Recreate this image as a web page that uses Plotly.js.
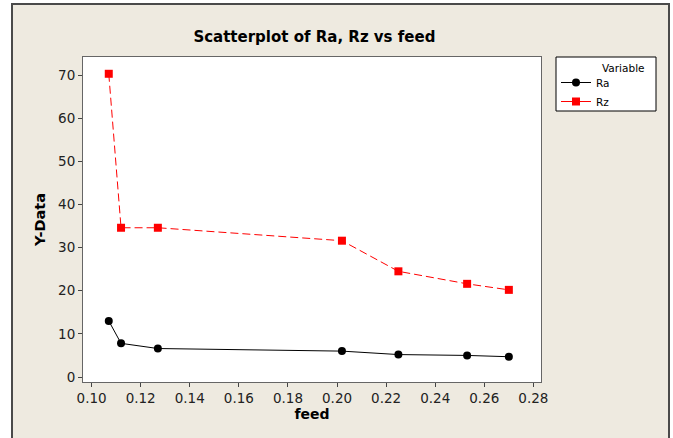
<!DOCTYPE html>
<html>
<head>
<meta charset="utf-8">
<script src="https://cdn.plot.ly/plotly-3.0.1.min.js"></script>
<style>html,body{margin:0;padding:0;background:#fff;}#chart{width:673px;height:438px;}</style>
</head>
<body>
<div id="chart"></div>
<script>
var feed = [0.107, 0.112, 0.127, 0.202, 0.225, 0.253, 0.270];
var Ra = [13.0, 7.8, 6.6, 6.0, 5.2, 5.0, 4.7];
var Rz = [70.3, 34.6, 34.6, 31.6, 24.5, 21.6, 20.2];
var seriesNames = ['Ra', 'Rz'];
var xTicks = [0.10, 0.12, 0.14, 0.16, 0.18, 0.20, 0.22, 0.24, 0.26, 0.28];
var yTicks = [0, 10, 20, 30, 40, 50, 60, 70];

var W = 673, H = 438;
var L = 83, R = 541, T = 57, B = 382;
var pw = R - L, ph = B - T;
function px(x) { return (x - L) / pw; }
function py(y) { return (B - y) / ph; }

var font = 'DejaVu Sans, Verdana, sans-serif';

var traces = [
  {x: feed, y: Ra, name: seriesNames[0], type: 'scatter', mode: 'lines+markers',
   line: {color: '#000000', width: 1},
   marker: {symbol: 'circle', size: 8, color: '#000000'}},
  {x: feed, y: Rz, name: seriesNames[1], type: 'scatter', mode: 'lines+markers', showlegend: false,
   line: {color: '#ff0000', width: 1, dash: '8px,4px'},
   marker: {symbol: 'square', size: 8, color: '#ff0000'}},
  {x: [null], y: [null], name: seriesNames[1], type: 'scatter', mode: 'lines+markers',
   line: {color: '#ff0000', width: 1},
   marker: {symbol: 'square', size: 8, color: '#ff0000'}}
];

var layout = {
  width: W, height: H,
  margin: {l: L, r: W - R, t: T, b: H - B, pad: 0},
  paper_bgcolor: '#ffffff',
  plot_bgcolor: 'rgba(0,0,0,0)',
  font: {family: font, size: 12, color: '#000'},
  title: {text: '<b>Scatterplot of Ra, Rz vs feed</b>', font: {family: font, size: 15, color: '#000'},
          x: 340 / W, xanchor: 'center', xref: 'paper', y: 1 - 37 / H, yanchor: 'middle'},
  xaxis: {range: [0.0965, 0.2831], tickvals: xTicks, ticktext: xTicks.map(function(v){return v.toFixed(2);}),
          ticks: 'outside', ticklen: 4, tickcolor: '#444', tickwidth: 1,
          showline: true, linecolor: '#666', linewidth: 1, mirror: true,
          showgrid: false, zeroline: false,
          tickfont: {family: font, size: 13.5, color: '#222'},
          title: {text: '<b>feed</b>', font: {family: font, size: 14, color: '#000'}, standoff: 3}},
  yaxis: {range: [-1.16, 74.19], tickvals: yTicks,
          ticks: 'outside', ticklen: 4, tickcolor: '#444', tickwidth: 1,
          showline: true, linecolor: '#666', linewidth: 1, mirror: true,
          showgrid: false, zeroline: false,
          tickfont: {family: font, size: 13.5, color: '#222'},
          title: {text: '<b>Y-Data</b>', font: {family: font, size: 14.5, color: '#000'}, standoff: 9}},
  showlegend: true,
  legend: {x: px(556), xanchor: 'left', y: py(68), yanchor: 'top',
           bgcolor: 'rgba(0,0,0,0)', borderwidth: 0,
           font: {family: font, size: 10.5, color: '#000'}, itemwidth: 30, tracegroupgap: 0},
  shapes: [
    {type: 'rect', xref: 'paper', yref: 'paper', layer: 'below',
     x0: px(12), x1: px(669), y0: py(445), y1: py(4),
     fillcolor: '#eeeae0', line: {color: '#4a4a4a', width: 2}},
    {type: 'rect', xref: 'paper', yref: 'paper', layer: 'below',
     x0: 0, x1: 1, y0: 0, y1: 1,
     fillcolor: '#ffffff', line: {width: 0}},
    {type: 'rect', xref: 'paper', yref: 'paper', layer: 'below',
     x0: px(556), x1: px(656), y0: py(111), y1: py(57),
     fillcolor: '#ffffff', line: {color: '#000000', width: 1}}
  ],
  annotations: [
    {text: 'Variable', xref: 'paper', yref: 'paper', x: px(600), xanchor: 'left',
     y: py(68), yanchor: 'middle', showarrow: false,
     font: {family: font, size: 10.5, color: '#000'}}
  ]
};

Plotly.newPlot('chart', traces, layout, {displayModeBar: false, staticPlot: true});
</script>
</body>
</html>
